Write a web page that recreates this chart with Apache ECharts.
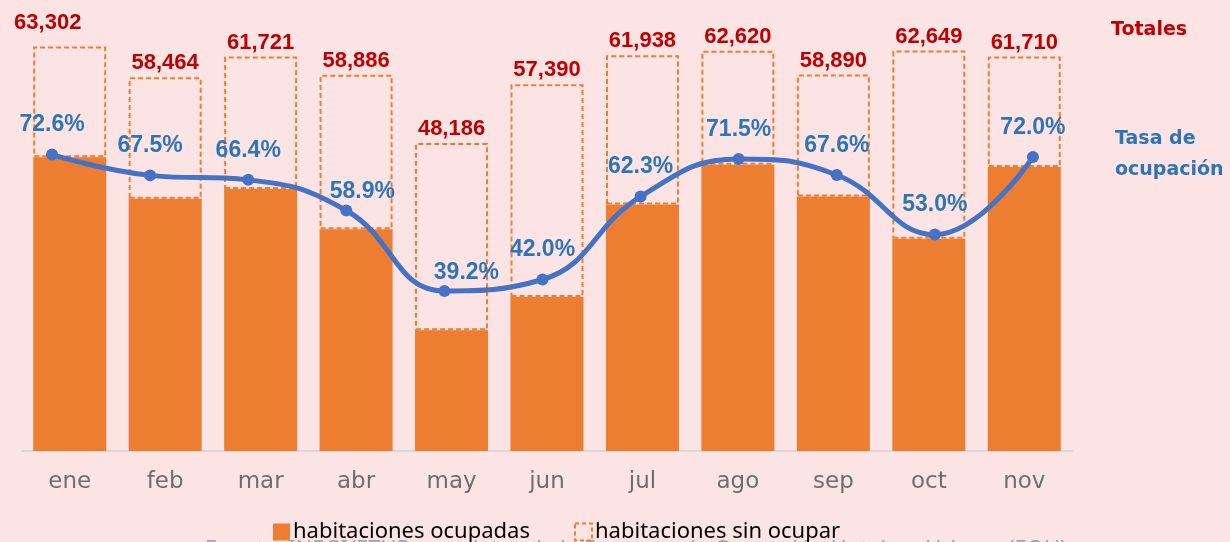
<!DOCTYPE html>
<html>
<head>
<meta charset="utf-8">
<script src="https://cdn.jsdelivr.net/npm/echarts@6/dist/echarts.min.js"></script>
<style>
  html, body { margin: 0; padding: 0; background: #fde4e4; }
  #chart { width: 1230px; height: 542px; }
</style>
</head>
<body>
<div id="chart"></div>
<script>
// datos
const meses = ["ene", "feb", "mar", "abr", "may", "jun", "jul", "ago", "sep", "oct", "nov"];
const totales = [63302, 58464, 61721, 58886, 48186, 57390, 61938, 62620, 58890, 62649, 61710];
const ocupadas = [45957, 39463, 40983, 34684, 18889, 24104, 38587, 44773, 39810, 33204, 44431];
const tasa = [72.6, 67.5, 66.4, 58.9, 39.2, 42.0, 62.3, 71.5, 67.6, 53.0, 72.0];

const sinOcupar = totales.map((t, i) => t - ocupadas[i]);

const naranja = "#ed7d31";
const azul = "#4472c4";
const azulTexto = "#2e75b6";
const rojo = "#c00000";

// algunas etiquetas estan movidas a mano en el original
const offsetTasa = { 3: [16, 11], 4: [22, 11] };

let myChart = echarts.init(document.getElementById("chart"));
myChart.setOption({
  backgroundColor: "#fde4e4",
  animation: false,
  grid: [
    { left: 22, right: 158, top: 10, bottom: 91 },
    { left: 3, right: 148, top: 10, bottom: 91 },
  ],
  legend: {
    left: 268,
    top: 516,
    itemWidth: 17,
    itemHeight: 17,
    itemGap: 44,
    data: [
      { name: "habitaciones ocupadas", icon: "rect" },
      {
        name: "habitaciones sin ocupar",
        icon: "rect",
        itemStyle: { borderWidth: 2, borderType: [4, 3] },
      },
    ],
    textStyle: {
      color: "#000",
      fontSize: 22,
      fontFamily: "Noto Sans",
      padding: [0, 0, 0, -2],
    },
  },
  graphic: [
    {
      type: "text",
      left: 205,
      top: 539,
      z: -1,
      style: {
        text: "Fuente: INEGI/ETUR, con datos de la Encuesta de Ocupación Hotelera Urbana (EOH)",
        fill: "#a6a6a6",
        font: "22px 'Noto Sans'",
      },
    },
    {
      type: "text",
      left: 1111,
      top: 21,
      style: { text: "Totales", fill: rojo, font: "bold 19px 'DejaVu Sans'" },
    },
    {
      type: "text",
      left: 1115,
      top: 124,
      style: {
        text: "Tasa de\nocupación",
        fill: azulTexto,
        font: "bold 19px 'DejaVu Sans'",
        lineHeight: 31,
      },
    },
  ],
  xAxis: [
    {
      type: "category",
      gridIndex: 0,
      data: meses,
      axisLine: { lineStyle: { color: "#d9d9d9", width: 2 } },
      axisTick: { show: false },
      axisLabel: {
        color: "#6e6e6e",
        fontSize: 23,
        fontFamily: "DejaVu Sans",
        margin: 20,
      },
    },
    {
      type: "category",
      gridIndex: 1,
      data: meses,
      show: false,
    },
  ],
  yAxis: [
    { type: "value", gridIndex: 0, min: 0, max: 69000, show: false, splitLine: { show: false } },
    { type: "value", gridIndex: 1, min: 0, max: 108, show: false, splitLine: { show: false } },
  ],
  series: [
    {
      name: "habitaciones ocupadas",
      type: "bar",
      stack: "hab",
      barWidth: 73,
      xAxisIndex: 0,
      yAxisIndex: 0,
      itemStyle: { color: naranja },
      data: ocupadas,
    },
    {
      name: "habitaciones sin ocupar",
      type: "bar",
      stack: "hab",
      barWidth: 73,
      xAxisIndex: 0,
      yAxisIndex: 0,
      itemStyle: {
        color: "rgba(0,0,0,0)",
        borderColor: naranja,
        borderWidth: 2,
        borderType: [5, 3],
      },
      label: {
        show: true,
        position: "top",
        distance: 3,
        color: rojo,
        fontSize: 22,
        fontWeight: "bold",
        fontFamily: "Liberation Sans",
        formatter: (p) => totales[p.dataIndex].toLocaleString("en-US"),
      },
      data: sinOcupar.map((v, i) =>
        i === 0 ? { value: v, label: { offset: [-22, -9] } } : v
      ),
    },
    {
      name: "Tasa de ocupación",
      type: "line",
      xAxisIndex: 1,
      yAxisIndex: 1,
      smooth: 0.45,
      z: 5,
      symbol: "circle",
      symbolSize: 12,
      itemStyle: { color: azul },
      lineStyle: { color: azul, width: 5 },
      label: {
        show: true,
        position: "top",
        distance: 12,
        color: azulTexto,
        fontSize: 23,
        fontWeight: "bold",
        fontFamily: "Liberation Sans",
        formatter: (p) => p.value.toFixed(1) + "%",
      },
      data: tasa.map((v, i) =>
        offsetTasa[i] ? { value: v, label: { offset: offsetTasa[i] } } : v
      ),
    },
  ],
});
</script>
</body>
</html>
